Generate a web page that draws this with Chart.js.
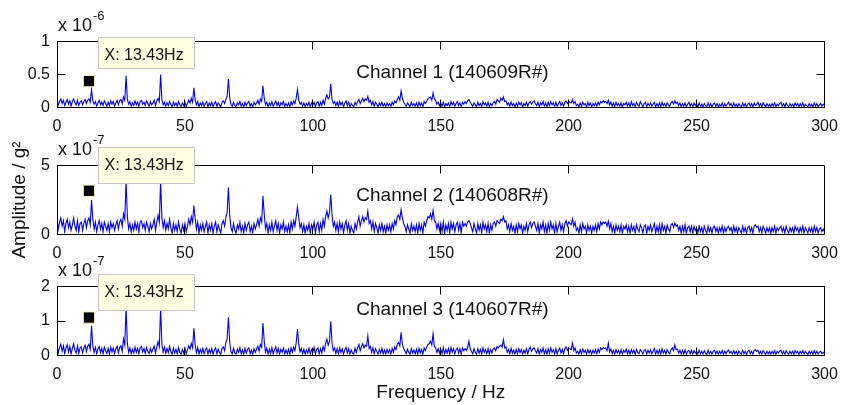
<!DOCTYPE html>
<html>
<head>
<meta charset="utf-8">
<script src="https://cdn.jsdelivr.net/npm/chart.js@4.4.1/dist/chart.umd.min.js"></script>
<style>
  body { margin: 0; background: #fff; }
  #wrap { position: relative; width: 841px; height: 405px; background: #fff; }
  #wrap canvas { position: absolute; left: 0; top: 0; }
</style>
</head>
<body>
<div id="wrap">
  <canvas id="c1" width="841" height="405"></canvas>
  <canvas id="c2" width="841" height="405"></canvas>
  <canvas id="c3" width="841" height="405"></canvas>
</div>
<script>
// spectra, 0.5 Hz bins from 0 to 300 Hz (one row = 10 Hz)
// channel 1, units of 1e-8 g^2
const ch1Amp = [
  12, 4, 9, 13, 6, 11, 3, 8, 12, 5, 10, 2, 9, 13, 7, 4, 11, 3, 8, 10,
  4, 9, 12, 6, 11, 13, 8, 27, 10, 5, 9, 2, 7, 11, 4, 8, 3, 10, 6, 2,
  8, 3, 10, 5, 9, 2, 7, 11, 4, 10, 12, 6, 16, 11, 48, 13, 5, 9, 2, 7,
  3, 10, 4, 8, 2, 9, 11, 5, 8, 3, 10, 6, 2, 9, 4, 7, 11, 3, 10, 14,
  9, 50, 12, 4, 8, 2, 7, 3, 9, 5, 1, 8, 3, 7, 2, 9, 4, 1, 7, 3,
  8, 2, 6, 11, 7, 14, 8, 30, 12, 4, 9, 1, 7, 3, 8, 2, 6, 9, 1, 7,
  3, 8, 1, 6, 9, 2, 7, 4, 1, 8, 10, 6, 12, 17, 43, 15, 5, 2, 8, 3,
  1, 7, 4, 9, 2, 6, 1, 8, 3, 7, 9, 2, 6, 1, 8, 4, 7, 11, 5, 13,
  9, 33, 14, 4, 8, 1, 7, 3, 9, 2, 6, 10, 3, 8, 1, 7, 4, 9, 2, 6,
  2, 7, 1, 9, 4, 10, 6, 14, 27, 11, 5, 8, 2, 7, 1, 6, 3, 8, 1, 7,
  4, 8, 1, 7, 9, 2, 8, 3, 11, 5, 14, 19, 13, 16, 36, 12, 6, 9, 3, 8,
  2, 9, 4, 8, 1, 7, 10, 3, 8, 1, 6, 3, 1, 8, 4, 9, 12, 6, 10, 14,
  9, 13, 11, 17, 8, 11, 4, 9, 2, 8, 5, 1, 7, 3, 8, 2, 6, 1, 7, 3,
  6, 2, 8, 4, 10, 7, 12, 16, 11, 25, 14, 8, 5, 2, 7, 4, 1, 8, 3, 6,
  2, 7, 1, 8, 3, 7, 1, 9, 6, 10, 13, 15, 16, 11, 22, 13, 11, 5, 8, 3,
  7, 2, 8, 1, 6, 3, 7, 1, 9, 4, 8, 2, 6, 9, 3, 7, 1, 8, 5, 9,
  6, 10, 12, 8, 5, 2, 7, 4, 1, 8, 3, 6, 1, 9, 4, 7, 2, 8, 1, 6,
  3, 7, 9, 5, 12, 10, 8, 14, 11, 16, 9, 10, 4, 7, 2, 8, 3, 6, 1, 7,
  2, 8, 4, 7, 1, 6, 3, 8, 2, 7, 9, 5, 8, 10, 6, 3, 8, 1, 7, 4,
  9, 2, 7, 1, 8, 3, 9, 4, 7, 1, 8, 2, 6, 9, 3, 7, 2, 8, 10, 6,
  9, 8, 7, 12, 6, 9, 3, 5, 1, 7, 2, 8, 4, 6, 1, 8, 3, 7, 1, 6,
  3, 7, 2, 8, 4, 9, 7, 10, 8, 9, 6, 11, 4, 8, 2, 7, 1, 8, 3, 6,
  2, 7, 1, 6, 4, 8, 2, 7, 1, 9, 3, 6, 1, 8, 4, 2, 9, 5, 1, 6,
  8, 1, 6, 3, 7, 2, 5, 8, 1, 6, 2, 7, 1, 8, 3, 6, 1, 7, 4, 2,
  7, 9, 5, 10, 6, 8, 3, 7, 1, 6, 2, 7, 1, 5, 8, 2, 6, 1, 7, 3,
  6, 1, 7, 2, 5, 1, 6, 3, 1, 7, 2, 6, 1, 5, 7, 2, 6, 1, 5, 2,
  7, 1, 6, 2, 5, 8, 3, 6, 1, 7, 2, 5, 1, 6, 3, 1, 7, 2, 6, 1,
  5, 7, 2, 6, 1, 7, 3, 5, 8, 2, 6, 1, 7, 4, 1, 6, 2, 5, 1, 6,
  2, 7, 1, 5, 3, 6, 8, 2, 6, 1, 7, 3, 1, 6, 2, 5, 1, 7, 3, 6,
  1, 6, 2, 7, 1, 5, 3, 1, 6, 2, 5, 1, 7, 2, 6, 1, 4, 6, 2, 5,
  3
];

// channel 2, units of 1e-9 g^2
const ch2Amp = [
  110, 40, 90, 120, 60, 100, 20, 80, 110, 50, 90, 30, 70, 120, 60, 30, 100, 20, 80, 90,
  30, 80, 110, 50, 100, 120, 70, 250, 110, 40, 90, 20, 70, 100, 40, 80, 20, 90, 60, 30,
  80, 20, 90, 50, 80, 30, 70, 100, 40, 90, 110, 60, 150, 110, 390, 130, 40, 80, 20, 70,
  30, 90, 40, 80, 20, 90, 100, 50, 80, 30, 90, 60, 20, 80, 40, 70, 110, 30, 90, 140,
  90, 390, 120, 50, 100, 30, 80, 40, 110, 50, 10, 80, 30, 70, 20, 90, 40, 10, 70, 30,
  80, 20, 60, 110, 70, 130, 90, 210, 120, 40, 90, 10, 70, 30, 80, 20, 60, 90, 10, 70,
  30, 80, 10, 60, 90, 20, 70, 40, 10, 80, 100, 60, 120, 160, 340, 140, 50, 20, 80, 30,
  10, 70, 40, 90, 20, 60, 10, 80, 30, 70, 90, 20, 60, 10, 80, 40, 70, 110, 60, 120,
  90, 280, 150, 40, 80, 10, 70, 30, 90, 20, 60, 100, 30, 80, 10, 70, 40, 90, 20, 60,
  20, 70, 10, 90, 40, 100, 60, 130, 200, 120, 50, 80, 20, 70, 10, 60, 30, 80, 10, 70,
  40, 90, 10, 70, 90, 20, 80, 30, 110, 60, 130, 170, 120, 160, 290, 140, 60, 90, 30, 80,
  20, 90, 40, 80, 10, 70, 100, 30, 80, 10, 60, 30, 10, 80, 40, 90, 130, 60, 100, 130,
  90, 120, 110, 170, 80, 100, 40, 90, 20, 80, 50, 10, 70, 30, 80, 20, 60, 10, 70, 30,
  70, 20, 80, 40, 100, 70, 130, 140, 110, 180, 120, 80, 60, 20, 70, 40, 10, 80, 30, 60,
  20, 70, 10, 80, 30, 70, 10, 90, 60, 100, 130, 120, 150, 110, 175, 100, 90, 40, 80, 30,
  80, 20, 90, 10, 70, 30, 80, 10, 90, 40, 80, 20, 70, 90, 30, 80, 10, 90, 60, 80,
  60, 90, 100, 80, 50, 20, 80, 40, 10, 80, 30, 70, 10, 90, 40, 70, 20, 80, 10, 70,
  30, 80, 90, 60, 100, 90, 80, 110, 100, 130, 90, 100, 40, 70, 20, 80, 30, 60, 10, 70,
  20, 80, 40, 70, 10, 60, 30, 80, 20, 70, 90, 50, 80, 90, 60, 30, 80, 10, 70, 40,
  90, 20, 70, 10, 80, 30, 90, 40, 70, 10, 80, 20, 60, 90, 30, 70, 20, 80, 100, 60,
  90, 80, 70, 113, 60, 90, 30, 50, 10, 70, 20, 80, 40, 60, 10, 70, 30, 60, 10, 60,
  30, 70, 20, 80, 40, 90, 70, 90, 80, 90, 60, 96, 40, 80, 20, 60, 10, 70, 30, 60,
  20, 70, 10, 60, 40, 70, 20, 60, 10, 70, 30, 60, 10, 70, 40, 20, 70, 50, 10, 60,
  70, 10, 60, 30, 70, 20, 50, 80, 10, 60, 20, 70, 10, 80, 30, 60, 10, 70, 40, 20,
  70, 80, 50, 84, 60, 70, 30, 60, 10, 60, 20, 70, 10, 50, 60, 20, 60, 10, 60, 30,
  50, 10, 60, 20, 50, 10, 60, 30, 10, 60, 20, 50, 10, 50, 60, 20, 50, 10, 50, 20,
  60, 10, 50, 20, 50, 60, 30, 50, 10, 60, 20, 50, 10, 50, 30, 10, 60, 20, 50, 10,
  50, 60, 20, 50, 10, 60, 70, 50, 60, 20, 50, 10, 60, 40, 10, 50, 20, 50, 10, 50,
  20, 60, 10, 50, 30, 50, 60, 20, 50, 10, 60, 30, 10, 50, 20, 50, 10, 60, 30, 50,
  10, 50, 20, 60, 10, 50, 30, 10, 50, 20, 50, 10, 60, 20, 50, 10, 40, 50, 20, 40,
  20
];

// channel 3, units of 1e-9 g^2
const ch3Amp = [
  30, 8, 24, 33, 12, 28, 6, 22, 31, 10, 26, 5, 21, 34, 14, 7, 27, 6, 22, 25,
  7, 22, 30, 11, 27, 33, 18, 86, 28, 9, 24, 5, 19, 26, 8, 21, 5, 24, 13, 6,
  21, 5, 24, 10, 22, 6, 19, 27, 8, 23, 28, 12, 48, 30, 140, 35, 9, 22, 5, 18,
  7, 24, 9, 21, 5, 23, 26, 10, 20, 6, 23, 12, 5, 21, 9, 18, 27, 7, 24, 40,
  25, 140, 33, 10, 24, 6, 20, 8, 26, 11, 4, 21, 7, 18, 5, 23, 9, 4, 18, 7,
  21, 5, 17, 28, 19, 35, 22, 79, 32, 8, 23, 4, 18, 7, 21, 5, 16, 22, 4, 18,
  7, 20, 4, 16, 22, 5, 18, 9, 4, 20, 25, 14, 38, 48, 111, 40, 11, 5, 21, 7,
  4, 18, 9, 23, 5, 16, 4, 21, 7, 18, 22, 5, 16, 4, 20, 9, 18, 27, 13, 32,
  24, 94, 42, 9, 21, 4, 18, 6, 23, 5, 16, 25, 7, 21, 4, 18, 9, 22, 5, 16,
  5, 18, 4, 22, 9, 24, 14, 37, 77, 32, 11, 20, 5, 18, 4, 16, 7, 21, 4, 17,
  9, 23, 4, 18, 22, 5, 20, 7, 26, 14, 35, 47, 30, 40, 99, 36, 14, 22, 6, 20,
  5, 22, 9, 19, 4, 17, 24, 7, 20, 4, 16, 7, 4, 21, 9, 23, 32, 14, 26, 34,
  22, 30, 27, 57, 20, 26, 9, 22, 5, 20, 12, 4, 18, 7, 21, 5, 16, 4, 18, 7,
  17, 5, 21, 9, 25, 17, 32, 38, 28, 67, 32, 20, 14, 5, 18, 9, 4, 20, 7, 16,
  5, 18, 4, 21, 7, 18, 4, 22, 14, 25, 32, 34, 42, 30, 63, 27, 22, 9, 20, 7,
  20, 5, 23, 4, 18, 7, 21, 4, 23, 9, 20, 5, 17, 22, 7, 20, 4, 22, 14, 20,
  15, 23, 41, 20, 12, 5, 20, 9, 4, 20, 7, 18, 4, 22, 9, 17, 5, 20, 4, 17,
  7, 19, 22, 14, 26, 22, 27, 30, 24, 46, 22, 25, 9, 17, 5, 21, 7, 15, 4, 18,
  5, 20, 9, 17, 4, 15, 7, 20, 5, 18, 24, 12, 19, 22, 14, 7, 20, 4, 17, 9,
  22, 5, 17, 4, 20, 7, 22, 9, 17, 4, 20, 5, 15, 22, 7, 18, 5, 20, 25, 15,
  22, 20, 17, 36, 14, 22, 7, 12, 4, 17, 5, 19, 9, 15, 4, 17, 7, 15, 4, 15,
  7, 17, 5, 19, 9, 22, 17, 23, 20, 22, 14, 36, 10, 19, 5, 15, 4, 17, 7, 15,
  5, 17, 4, 15, 9, 18, 5, 15, 4, 17, 7, 15, 4, 18, 9, 5, 17, 12, 4, 15,
  17, 4, 15, 7, 17, 5, 12, 20, 4, 15, 5, 17, 4, 20, 7, 15, 4, 17, 9, 5,
  17, 22, 14, 31, 17, 19, 7, 15, 4, 15, 5, 16, 4, 12, 15, 5, 15, 4, 14, 7,
  12, 4, 15, 5, 12, 4, 14, 7, 3, 15, 5, 12, 4, 12, 15, 5, 13, 4, 12, 5,
  14, 3, 13, 5, 12, 16, 7, 12, 4, 14, 5, 12, 3, 13, 7, 4, 15, 5, 12, 3,
  12, 15, 5, 12, 4, 14, 17, 12, 15, 5, 12, 4, 14, 9, 3, 12, 5, 12, 4, 12,
  5, 14, 4, 12, 7, 13, 15, 5, 12, 3, 14, 7, 4, 12, 5, 12, 3, 14, 7, 12,
  3, 12, 5, 14, 4, 12, 7, 3, 12, 5, 12, 3, 14, 5, 12, 4, 10, 12, 5, 9,
  5
];

const BIN_HZ = 0.5;
const freqHz = ch1Amp.map((_, i) => i * BIN_HZ);

// stored units -> axis units (x1e-6, x1e-7, x1e-7)
const toAxisUnits = [0.01, 0.01, 0.01];

const channelNames = ['Channel 1 (140609R#)', 'Channel 2 (140608R#)', 'Channel 3 (140607R#)'];
const yMaxes = [1, 5, 2];
const yTickSteps = [0.5, 5, 1];
const yExponents = ['-6', '-7', '-7'];
const xTickStep = 50;

// data tip marker (as drawn) and its text
const tipFreq = [12.5, 12.5, 12.5];
const tipAmp = [0.40, 3.17, 1.10];
const tipText = 'X: 13.43Hz';

// channel label anchor, axis units
const labelFreq = [117, 117, 117];
const labelAmp = [0.52, 2.79, 1.32];

const FONT = '"Liberation Sans", Arial, Helvetica, sans-serif';
const TXT = '#111';
const W = 841, H = 405;

// pixel boxes of the three axes
const boxes = [
  { top: 41.5, bottom: 107.5, tipH: 31 },
  { top: 165.5, bottom: 234.5, tipH: 36 },
  { top: 286.5, bottom: 355.5, tipH: 36 },
];

const snap = v => Math.floor(v) + 0.5;

function axesPlugin(i) {
  return {
    id: 'matlabAxes' + i,
    afterDatasetsDraw(chart) {
      const { ctx, chartArea: a, scales: { x, y } } = chart;
      ctx.save();
      ctx.strokeStyle = '#000';
      ctx.lineWidth = 1;
      const L = snap(a.left), R = snap(a.right), T = snap(a.top), B = snap(a.bottom);
      ctx.beginPath();
      ctx.rect(L, T, R - L, B - T);
      // inward tick marks, all four sides
      x.ticks.forEach(t => {
        const px = snap(x.getPixelForValue(t.value));
        ctx.moveTo(px, B); ctx.lineTo(px, B - 8);
        ctx.moveTo(px, T); ctx.lineTo(px, T + 8);
      });
      y.ticks.forEach(t => {
        const py = snap(y.getPixelForValue(t.value));
        ctx.moveTo(L, py); ctx.lineTo(L + 8, py);
        ctx.moveTo(R, py); ctx.lineTo(R - 8, py);
      });
      ctx.stroke();

      // exponent label
      ctx.fillStyle = TXT;
      ctx.textAlign = 'left';
      ctx.textBaseline = 'middle';
      ctx.font = '18px ' + FONT;
      ctx.fillText('x 10', a.left + 1, a.top - 15.5);
      const w = ctx.measureText('x 10').width;
      ctx.font = '13px ' + FONT;
      ctx.fillText(yExponents[i], a.left + 2 + w, a.top - 25);

      // channel label
      ctx.font = '19px ' + FONT;
      ctx.fillText(channelNames[i], x.getPixelForValue(labelFreq[i]), y.getPixelForValue(labelAmp[i]));

      // data tip box
      const mx = x.getPixelForValue(tipFreq[i]);
      const my = y.getPixelForValue(tipAmp[i]);
      const bx = Math.round(mx + 9) + 0.5;
      const by = Math.round(my - 44) + 0.5;
      ctx.fillStyle = '#ffffe1';
      ctx.strokeStyle = '#c8c8c8';
      ctx.fillRect(bx, by, 96, boxes[i].tipH);
      ctx.strokeRect(bx, by, 96, boxes[i].tipH);
      ctx.fillStyle = TXT;
      ctx.font = '16px ' + FONT;
      ctx.fillText(tipText, bx + 6, by + 18.5);
      ctx.restore();
    }
  };
}

const amps = [ch1Amp, ch2Amp, ch3Amp];

amps.forEach((amp, i) => {
  const b = boxes[i];
  const last = i === 2;
  const xAxisH = last ? H - b.bottom : 30;
  new Chart(document.getElementById('c' + (i + 1)), {
    type: 'line',
    data: {
      labels: freqHz,
      datasets: [
        {
          type: 'scatter',
          data: [{ x: tipFreq[i], y: tipAmp[i] }],
          pointStyle: 'rect',
          pointRadius: 8,
          backgroundColor: '#000',
          borderColor: '#fff6c8',
          borderWidth: 1,
          order: 0
        },
        {
          data: amp.map(v => v * toAxisUnits[i]),
          borderColor: '#0000ff',
          borderWidth: 1.1,
          pointRadius: 0,
          tension: 0,
          fill: false,
          order: 1
        }
      ]
    },
    options: {
      responsive: false,
      maintainAspectRatio: false,
      animation: false,
      events: [],
      layout: {
        padding: { top: b.top, bottom: H - b.bottom - xAxisH, left: 0, right: 16.5 }
      },
      plugins: { legend: { display: false }, tooltip: { enabled: false } },
      scales: {
        x: {
          type: 'linear',
          min: 0,
          max: 300,
          grid: { display: false, drawTicks: false },
          border: { display: false },
          ticks: { stepSize: xTickStep, maxRotation: 0, padding: 9, color: TXT, font: { family: FONT, size: 16 } },
          title: {
            display: last,
            text: 'Frequency / Hz',
            color: TXT,
            font: { family: FONT, size: 19 },
            padding: { top: 0, bottom: 1 }
          },
          afterFit: s => { s.height = xAxisH; s.paddingLeft = 0; s.paddingRight = 0; }
        },
        y: {
          min: 0,
          max: yMaxes[i],
          grid: { display: false, drawTicks: false },
          border: { display: false },
          ticks: {
            stepSize: yTickSteps[i],
            padding: 7,
            color: TXT,
            font: { family: FONT, size: 16 },
            callback: v => String(+v.toFixed(3))
          },
          title: {
            display: i === 1,
            text: 'Amplitude / g²',
            color: TXT,
            font: { family: FONT, size: 19 },
            padding: { top: 8, bottom: 0 }
          },
          afterFit: s => { s.width = 57; s.paddingTop = 0; s.paddingBottom = 0; }
        }
      }
    },
    plugins: [axesPlugin(i)]
  });
});
</script>
</body>
</html>
